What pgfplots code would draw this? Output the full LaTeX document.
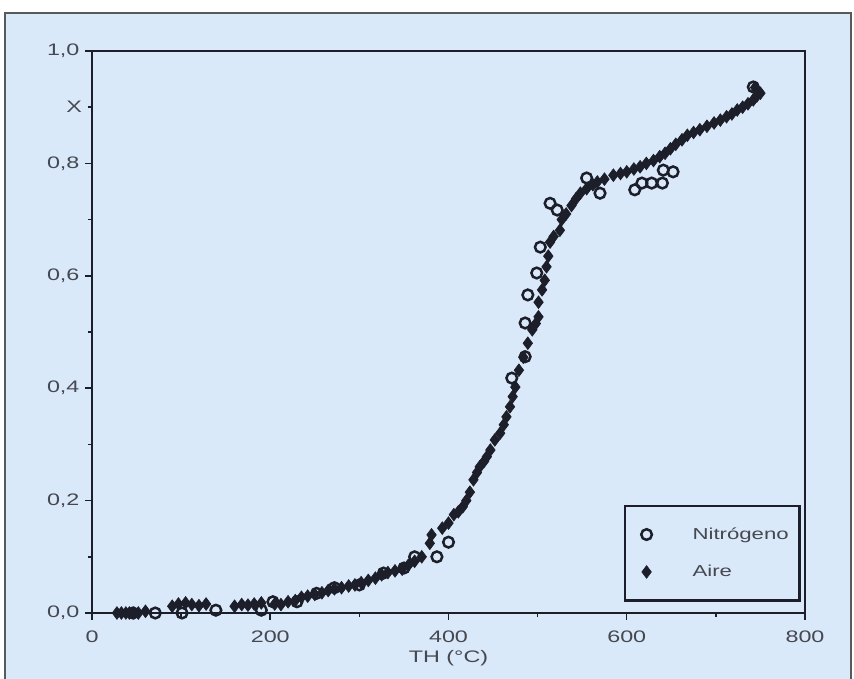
\documentclass[border=0pt]{standalone}
\usepackage{pgfplots}
\pgfplotsset{compat=1.18}
\usepackage{fontspec}
\setmainfont{Liberation Sans}[FakeStretch=1.4]
\definecolor{bgblue}{RGB}{218,233,249}
\definecolor{ink}{RGB}{28,30,42}
\definecolor{txt}{RGB}{70,72,80}
\pgfplotsset{wideleg/.style={legend image code/.code={\path[draw=none,fill=none] (0cm,-1pt) rectangle (1.2cm,1pt); \draw[##1] plot[only marks] coordinates {(0.3cm,0cm)};}}}
\begin{document}
\begin{tikzpicture}
\useasboundingbox (0,0) rectangle (512.4pt,407.4pt);
\fill[white] (0,0) rectangle (512.4pt,407.4pt);
\fill[bgblue] (3pt,0) rectangle (510.6pt,399.6pt);
\draw[gray!70!black, line width=0.8pt] (3pt,0) -- (3pt,399.6pt) -- (510.6pt,399.6pt) -- (510.6pt,0);
\begin{axis}[
  at={(55.2pt,39.6pt)}, anchor=south west,
  scale only axis, width=427.8pt, height=337.2pt,
  xmin=0, xmax=800, ymin=0, ymax=1.0,
  axis line style={ink, line width=1.4pt},
  xtick={0,200,400,600,800},
  ytick={0,0.2,0.4,0.6,0.8,1.0},
  minor x tick num=1, minor y tick num=1,
  xtick pos=bottom, ytick pos=left,
  tick align=outside,
  major tick length=4pt, minor tick length=2.5pt,
  tick style={ink, line width=0.9pt},
  extra y ticks={0.9}, extra y tick labels={X},
  extra y tick style={major tick length=2.5pt},
  /pgf/number format/assume math mode=true,
  yticklabel style={/pgf/number format/.cd, use comma, fixed, fixed zerofill, precision=1},
  xticklabel style={yshift=-3pt, /pgf/number format/.cd, fixed, 1000 sep={}},
  tick label style={font=\fontsize{10}{11}\selectfont, text=txt},
  xlabel={TH (°C)},
  xlabel style={font=\fontsize{10}{11}\selectfont, text=txt, yshift=2pt},
  reverse legend,
  legend cell align=left,
  legend style={at={(rel axis cs:0.994,0.02)}, anchor=south east,
    draw=ink, line width=1.4pt, fill=none,
    inner xsep=4.5pt, inner ysep=11pt, row sep=10pt,
    font=\fontsize{9.5}{11}\selectfont, text=txt},
]
% Aire (filled diamonds)
\addplot[only marks, mark=diamond*, mark size=3.8pt, color=ink, mark options={line width=0.4pt}, wideleg] coordinates {
(28,0) (33,0) (38,0) (42,0) (47,0) (52,0) (60,0.003)
(90,0.012) (97,0.016) (105,0.018) (112,0.015) (120,0.013) (128,0.016)
(160,0.012) (168,0.015) (175,0.014) (182,0.016) (190,0.018) (205,0.016) (212,0.015)
(220,0.02) (228,0.022) (235,0.028) (242,0.03) (250,0.033) (258,0.036) (265,0.04)
(272,0.043) (280,0.045) (288,0.048) (295,0.05) (302,0.054) (310,0.058) (318,0.062)
(325,0.068) (332,0.072) (340,0.075) (348,0.078) (355,0.085) (362,0.092) (370,0.1)
(379,0.124) (381,0.139) (393,0.151) (400,0.16) (406,0.175) (411,0.18) (416,0.189)
(420,0.2) (424,0.215) (428,0.237) (432,0.25) (435,0.26) (440,0.27) (443,0.278)
(447,0.29) (452,0.308) (458,0.32) (462,0.335) (465,0.349) (469,0.367) (472,0.385)
(475,0.402) (479,0.432) (484,0.455) (489,0.48) (494,0.504) (498,0.515) (501,0.527)
(501,0.553) (505,0.575) (508,0.592) (510,0.616) (512,0.635) (514,0.66) (518,0.67)
(525,0.681) (527,0.7) (532,0.71) (538,0.725) (543,0.737) (548,0.747) (555,0.755)
(562,0.762) (567,0.767) (575,0.772) (585,0.779) (593,0.782) (600,0.785) (608,0.79)
(615,0.794) (622,0.8) (630,0.805) (637,0.812) (643,0.818) (649,0.826) (655,0.834)
(662,0.842) (668,0.85) (675,0.855) (682,0.86) (690,0.866) (698,0.872) (705,0.877)
(712,0.883) (718,0.888) (724,0.895) (730,0.9) (736,0.906) (742,0.913) (746,0.92)
(750,0.925) (744,0.935)
};
\addlegendentry{Aire}
% Nitrogeno (open circles)
\addplot[only marks, mark=o, mark size=3.2pt, color=ink, mark options={line width=1.5pt, fill=white!55!bgblue}, wideleg] coordinates {
(46,0.0) (71,0.0) (101,0.0) (139,0.005) (190,0.005) (203,0.02) (230,0.02) (252,0.035)
(272,0.045) (300,0.05) (327,0.071) (350,0.08) (362,0.1) (387,0.1) (400,0.126)
(471,0.418) (486,0.456) (486,0.516) (489,0.566) (499,0.605) (503,0.651) (514,0.729)
(522,0.717) (555,0.774) (570,0.747) (609,0.753) (617,0.765) (628,0.765) (640,0.765)
(641,0.788) (652,0.785) (742,0.936)
};
\addlegendentry{Nitrógeno\hspace{12pt}}
\end{axis}
\end{tikzpicture}
\end{document}
